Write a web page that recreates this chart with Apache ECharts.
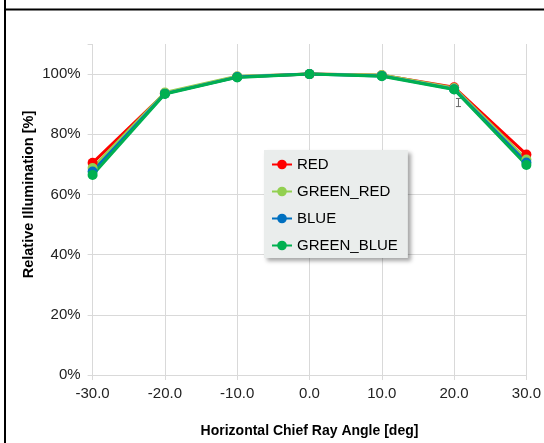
<!DOCTYPE html>
<html>
<head>
<meta charset="utf-8">
<script src="https://cdn.jsdelivr.net/npm/echarts@6/dist/echarts.min.js"></script>
<style>
  html, body { margin: 0; padding: 0; background: #fff; }
  #chart { width: 544px; height: 443px; }
</style>
</head>
<body>
<div id="chart"></div>
<script>
// angles in degrees, values in % relative illumination
var angles = [-30, -20, -10, 0, 10, 20, 30];
var red = [70.5, 93.6, 99.1, 100, 99.6, 95.6, 73.3];
var greenRed = [68.8, 93.9, 99.3, 100, 99.7, 95.4, 71.6];
var blue = [67.6, 93.5, 99.0, 100, 99.4, 95.0, 70.6];
var greenBlue = [66.5, 93.4, 98.9, 100, 99.3, 94.9, 69.8];
// small error bar near 20 deg: [x, high, low]
var errBar = [[20.6, 91.9, 89.2]];

var font = 'Liberation Sans, Arial, sans-serif';

function pairs(vals) {
  return angles.map(function (a, i) { return [a, vals[i]]; });
}

function lineSeries(name, vals, color) {
  return {
    name: name,
    type: 'line',
    data: pairs(vals),
    symbol: 'circle',
    symbolSize: 10,
    lineStyle: { width: 3, color: color },
    itemStyle: { color: color },
    emphasis: { disabled: true },
    z: 3
  };
}

var myChart = echarts.init(document.getElementById('chart'));

var option = {
  animation: false,
  textStyle: { fontFamily: font },
  grid: { left: 92.6, right: 17.4, top: 44, bottom: 65 },
  xAxis: {
    type: 'value',
    min: -30,
    max: 30,
    interval: 10,
    name: 'Horizontal Chief Ray Angle [deg]',
    nameLocation: 'middle',
    nameGap: 49,
    nameMoveOverlap: false,
    nameTextStyle: { fontSize: 14, fontWeight: 'bold', color: '#000', fontFamily: font },
    axisLine: { show: false, onZero: false },
    axisTick: { show: true, length: 5, lineStyle: { color: '#d9d9d9' } },
    axisLabel: { fontSize: 15, color: '#222', margin: 11, formatter: function (v) { return v.toFixed(1); } },
    splitLine: { show: true, lineStyle: { color: '#d9d9d9', width: 1 } }
  },
  yAxis: {
    type: 'value',
    min: 0,
    max: 110,
    interval: 20,
    name: 'Relative Illumination [%]',
    nameLocation: 'middle',
    nameGap: 56,
    nameMoveOverlap: false,
    nameTextStyle: { fontSize: 14.5, fontWeight: 'bold', color: '#000', fontFamily: font, padding: [0, 0, 0, 30] },
    axisLine: { show: false, onZero: false },
    axisTick: { show: true, length: 5, lineStyle: { color: '#d9d9d9' } },
    axisLabel: {
      fontSize: 15, color: '#222', margin: 12,
      formatter: function (v) { return v > 100 ? '' : v + '%'; }
    },
    splitLine: {
      show: true,
      lineStyle: { color: ['#d9d9d9', '#d9d9d9', '#d9d9d9', '#d9d9d9', '#d9d9d9', '#d9d9d9', 'rgba(0,0,0,0)'], width: 1 }
    }
  },
  legend: {
    orient: 'vertical',
    left: 264,
    top: 150,
    padding: [7, 10, 5, 7],
    itemWidth: 20,
    itemHeight: 12,
    itemGap: 12,
    backgroundColor: '#eaedec',
    shadowColor: 'rgba(0,0,0,0.35)',
    shadowBlur: 4,
    shadowOffsetX: 3,
    shadowOffsetY: 3,
    textStyle: { fontSize: 15, color: '#000', fontFamily: font },
    data: ['RED', 'GREEN_RED', 'BLUE', 'GREEN_BLUE']
  },
  series: [
    lineSeries('RED', red, '#ff0000'),
    lineSeries('GREEN_RED', greenRed, '#92d050'),
    lineSeries('BLUE', blue, '#0070c0'),
    lineSeries('GREEN_BLUE', greenBlue, '#00b050'),
    {
      type: 'custom',
      name: 'err',
      data: errBar,
      silent: true,
      z: 2,
      renderItem: function (params, api) {
        var hi = api.coord([api.value(0), api.value(1)]);
        var lo = api.coord([api.value(0), api.value(2)]);
        var st = { stroke: '#666', lineWidth: 1 };
        return {
          type: 'group',
          children: [
            { type: 'line', shape: { x1: hi[0], y1: hi[1], x2: lo[0], y2: lo[1] }, style: st },
            { type: 'line', shape: { x1: hi[0] - 2.5, y1: hi[1], x2: hi[0] + 2.5, y2: hi[1] }, style: st },
            { type: 'line', shape: { x1: lo[0] - 2.5, y1: lo[1], x2: lo[0] + 2.5, y2: lo[1] }, style: st }
          ]
        };
      }
    }
  ],
  graphic: [
    { type: 'line', shape: { x1: 5, y1: 0, x2: 5, y2: 443 }, style: { stroke: '#000', lineWidth: 2 } },
    { type: 'line', shape: { x1: 5, y1: 9.5, x2: 544, y2: 9.5 }, style: { stroke: '#000', lineWidth: 2 } }
  ]
};

myChart.setOption(option);
</script>
</body>
</html>
